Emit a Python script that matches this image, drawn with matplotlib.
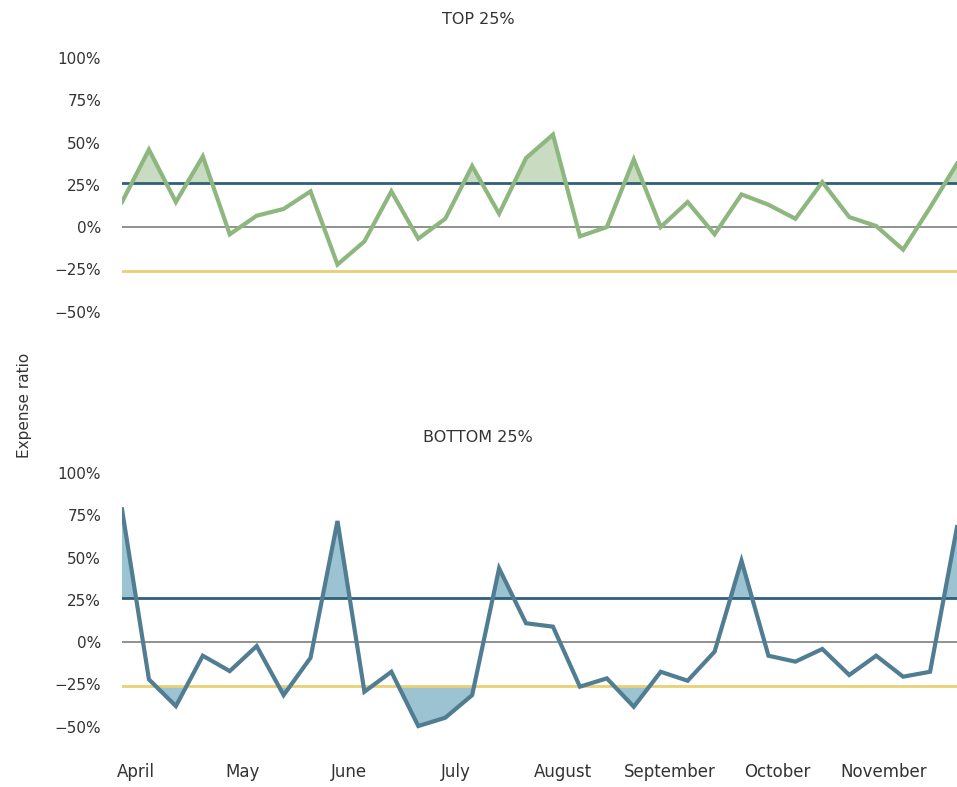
import matplotlib
matplotlib.use("Agg")
import matplotlib.pyplot as plt
import numpy as np

months = ["April", "May", "June", "July", "August", "September", "October", "November"]
top_values = [0.148, 0.458, 0.148, 0.418, -0.043, 0.067, 0.107, 0.211, -0.222, -0.085,
              0.211, -0.069, 0.049, 0.361, 0.079, 0.408, 0.547, -0.055, 0.0, 0.400,
              0.0, 0.148, -0.043, 0.193, 0.132, 0.049, 0.266, 0.059, 0.006, -0.134,
              0.115, 0.375]
bottom_values = [0.785, -0.221, -0.379, -0.081, -0.172, -0.024, -0.314, -0.093, 0.716, -0.294,
                 -0.176, -0.497, -0.448, -0.314, 0.436, 0.111, 0.091, -0.264, -0.215, -0.383,
                 -0.176, -0.229, -0.057, 0.481, -0.081, -0.116, -0.041, -0.195, -0.081, -0.205,
                 -0.176, 0.68]
upper_threshold = 0.26
lower_threshold = -0.26
y_ticks = [1.0, 0.75, 0.5, 0.25, 0.0, -0.25, -0.5]
y_tick_labels = ["100%", "75%", "50%", "25%", "0%", "\u221225%", "\u221250%"]

W, H = 957, 787
fig = plt.figure(figsize=(W / 100, H / 100), dpi=100)

def px_axes(left, top, right, bottom):
    return fig.add_axes([left / W, 1 - bottom / H, (right - left) / W, (bottom - top) / H])

ax_top = px_axes(122, 58, 957, 320)
ax_bot = px_axes(122, 473, 957, 735)

panels = [
    (ax_top, top_values, "#8db77f", "#c9dcc1", "TOP 25%"),
    (ax_bot, bottom_values, "#517d93", "#9cc3d2", "BOTTOM 25%"),
]

x = np.arange(len(top_values))
tick_pos = 0.5 + 3.97 * np.arange(len(months))

for ax, vals, lc, fc, title in panels:
    v = np.array(vals)
    ax.fill_between(x, v, upper_threshold, where=v > upper_threshold, interpolate=True,
                    color=fc, linewidth=0, zorder=1)
    ax.fill_between(x, v, lower_threshold, where=v < lower_threshold, interpolate=True,
                    color=fc, linewidth=0, zorder=1)
    ax.axhline(0, color="#888888", lw=1.3, zorder=2)
    ax.axhline(upper_threshold, color="#2f5f7b", lw=2.0, zorder=2)
    ax.axhline(lower_threshold, color="#e9d073", lw=2.0, zorder=2)
    ax.plot(x, v, color=lc, lw=3.0, zorder=3, solid_joinstyle="miter")
    ax.set_xlim(0, len(vals) - 1)
    ax.set_ylim(-0.55, 1.0)
    ax.set_yticks(y_ticks)
    ax.set_yticklabels(y_tick_labels)
    ax.tick_params(axis="y", length=0, pad=15, labelsize=11, labelcolor="#333333")
    for s in ax.spines.values():
        s.set_visible(False)
    ax.patch.set_alpha(0)

ax_top.set_xticks([])
ax_bot.set_xticks(tick_pos)
ax_bot.set_xticklabels(months)
ax_bot.tick_params(axis="x", length=0, pad=20, labelsize=12, labelcolor="#333333")

fig.text(478 / W, 1 - 20 / H, "TOP 25%", ha="center", va="center", fontsize=11.5, color="#333333")
fig.text(478 / W, 1 - 437 / H, "BOTTOM 25%", ha="center", va="center", fontsize=11.5, color="#333333")
fig.text(25 / W, 1 - 405 / H, "Expense ratio", rotation=90, ha="center", va="center",
         fontsize=11, color="#333333")

fig.savefig("out.png", dpi=100)
